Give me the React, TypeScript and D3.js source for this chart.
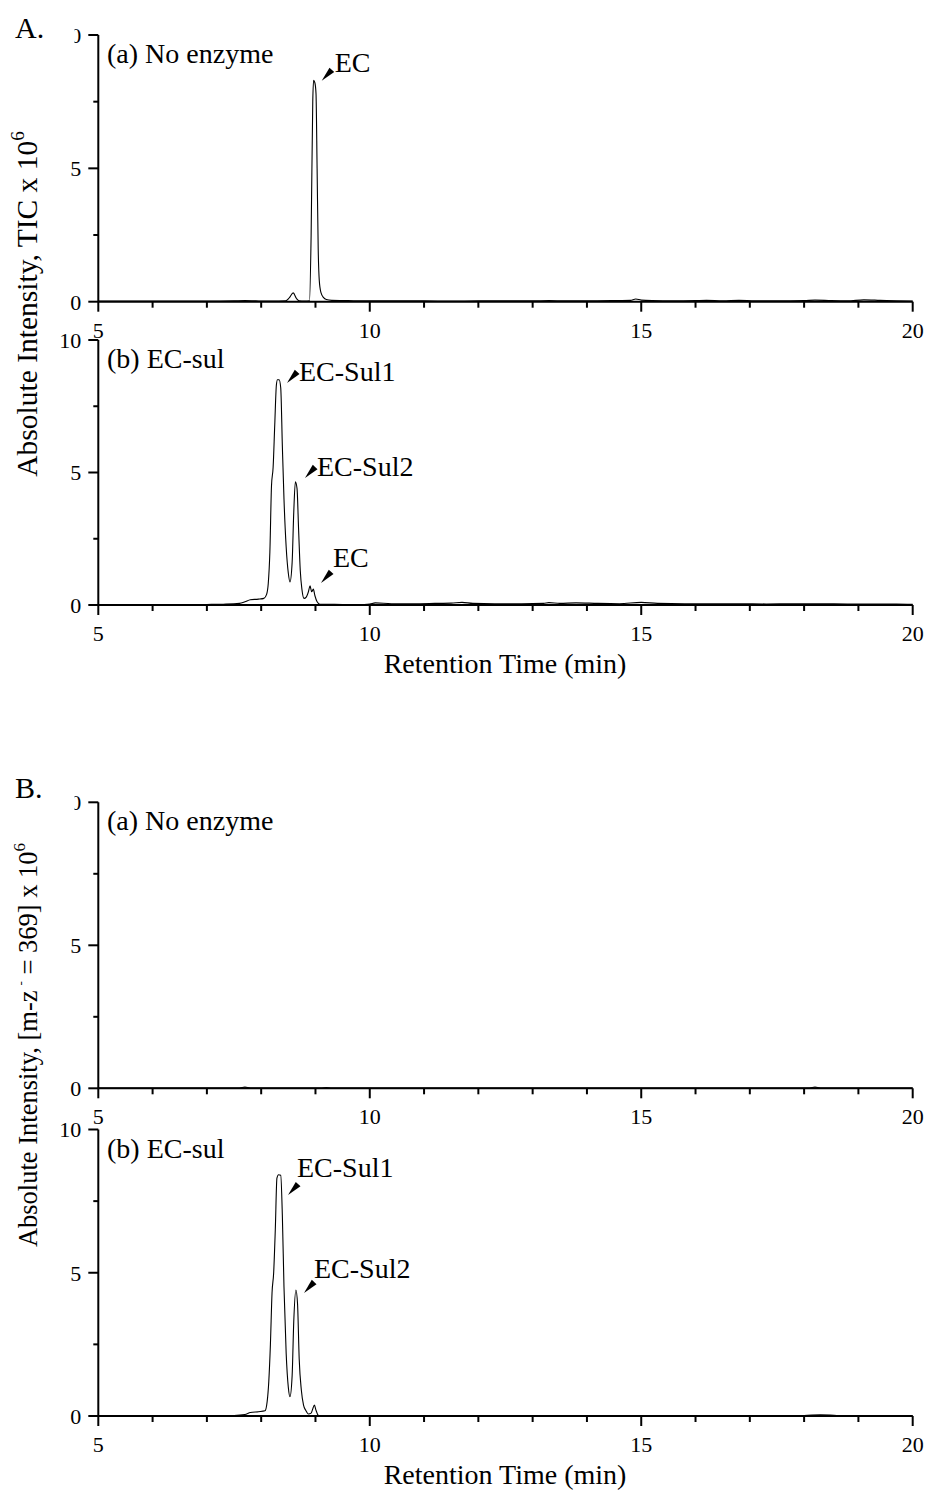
import React from "react";
import * as d3 from "d3";

// ---------------- DATA ----------------
const X_DOMAIN = [5, 20];
const Y_DOMAIN = [0, 10];
const X_MAJOR_TICKS = [5, 10, 15, 20];
const X_MINOR_TICKS = [6, 7, 8, 9, 11, 12, 13, 14, 16, 17, 18, 19];
const Y_MAJOR_TICKS = [0, 5, 10];
const Y_MINOR_TICKS = [2.5, 7.5];

// A (a) TIC, no enzyme
const TIC_NOENZ_TIME = [5.0, 5.5, 6.0, 6.5, 7.0, 7.5, 7.7, 7.9, 8.2, 8.45, 8.52, 8.59, 8.65, 8.7, 8.8, 8.89, 8.92, 8.95, 8.965, 8.99, 9.01, 9.03, 9.05, 9.07, 9.1, 9.15, 9.2, 9.3, 9.6, 10.0, 10.5, 11.0, 11.5, 12.0, 12.5, 13.0, 13.3, 13.6, 14.0, 14.5, 14.8, 14.9, 15.0, 15.2, 15.6, 16.0, 16.2, 16.5, 16.8, 17.1, 17.5, 18.0, 18.2, 18.5, 18.8, 19.1, 19.4, 19.7, 20.0];
const TIC_NOENZ_INT = [0.02, 0.02, 0.02, 0.02, 0.02, 0.03, 0.04, 0.03, 0.02, 0.03, 0.15, 0.33, 0.12, 0.03, 0.02, 0.03, 2.5, 7.5, 8.3, 8.2, 7.8, 5.0, 2.0, 0.8, 0.35, 0.15, 0.08, 0.05, 0.04, 0.03, 0.03, 0.03, 0.02, 0.03, 0.03, 0.03, 0.04, 0.03, 0.03, 0.04, 0.05, 0.1, 0.06, 0.04, 0.03, 0.04, 0.05, 0.03, 0.05, 0.03, 0.03, 0.04, 0.06, 0.04, 0.03, 0.07, 0.05, 0.03, 0.02];

// A (b) TIC, EC-sul
const TIC_SUL_TIME = [5.0, 5.5, 6.0, 6.5, 7.0, 7.3, 7.6, 7.7, 7.8, 7.95, 8.05, 8.1, 8.13, 8.16, 8.19, 8.22, 8.25, 8.28, 8.3, 8.33, 8.36, 8.39, 8.42, 8.46, 8.5, 8.53, 8.57, 8.6, 8.63, 8.66, 8.69, 8.72, 8.75, 8.79, 8.83, 8.87, 8.9, 8.93, 8.96, 8.99, 9.03, 9.08, 9.2, 9.5, 9.8, 10.0, 10.1, 10.4, 10.8, 11.2, 11.5, 11.7, 11.9, 12.3, 12.8, 13.2, 13.3, 13.5, 13.8, 14.2, 14.6, 15.0, 15.3, 15.8, 16.3, 16.8, 17.3, 17.8, 18.3, 18.8, 19.3, 19.7, 20.0];
const TIC_SUL_INT = [0.0, 0.0, 0.01, 0.01, 0.02, 0.03, 0.06, 0.12, 0.2, 0.22, 0.25, 0.4, 0.8, 2.0, 4.5, 5.2, 6.8, 8.3, 8.5, 8.5, 8.2, 6.0, 4.0, 2.2, 1.2, 0.87, 1.6, 3.5, 4.65, 4.4, 2.8, 1.3, 0.6, 0.25, 0.3, 0.5, 0.72, 0.5, 0.6, 0.35, 0.12, 0.03, 0.03, 0.02, 0.02, 0.04, 0.08, 0.05, 0.05, 0.06, 0.07, 0.1, 0.06, 0.05, 0.05, 0.06, 0.09, 0.06, 0.08, 0.06, 0.05, 0.1, 0.06, 0.05, 0.05, 0.05, 0.04, 0.05, 0.05, 0.04, 0.04, 0.04, 0.03];

// B (a) m/z 369, no enzyme
const MZ_NOENZ_TIME = [5.0, 6.0, 7.0, 7.6, 7.7, 7.8, 8.5, 9.1, 9.2, 9.3, 10.0, 12.0, 14.0, 16.0, 18.1, 18.2, 18.3, 19.0, 20.0];
const MZ_NOENZ_INT = [0.01, 0.01, 0.01, 0.01, 0.04, 0.01, 0.01, 0.01, 0.03, 0.01, 0.01, 0.01, 0.01, 0.01, 0.01, 0.04, 0.01, 0.01, 0.01];

// B (b) m/z 369, EC-sul
const MZ_SUL_TIME = [5.0, 6.0, 7.0, 7.5, 7.7, 7.8, 7.95, 8.07, 8.11, 8.14, 8.17, 8.2, 8.23, 8.26, 8.29, 8.32, 8.36, 8.39, 8.42, 8.46, 8.5, 8.53, 8.57, 8.6, 8.64, 8.67, 8.7, 8.74, 8.78, 8.82, 8.87, 8.92, 8.95, 8.98, 9.01, 9.05, 9.1, 9.5, 10.0, 11.0, 12.0, 13.0, 14.0, 15.0, 16.0, 17.0, 18.0, 18.3, 18.6, 19.0, 20.0];
const MZ_SUL_INT = [0.0, 0.0, 0.01, 0.02, 0.05, 0.12, 0.15, 0.18, 0.5, 1.2, 2.5, 4.3, 5.0, 6.5, 8.3, 8.42, 8.4, 7.0, 4.5, 2.2, 1.0, 0.67, 1.4, 3.3, 4.4, 3.9, 2.0, 0.9, 0.38, 0.2, 0.07, 0.1, 0.25, 0.38, 0.2, 0.03, 0.01, 0.01, 0.01, 0.01, 0.01, 0.01, 0.01, 0.01, 0.01, 0.01, 0.02, 0.04, 0.02, 0.01, 0.01];

// annotations: label + point the arrow tip touches (time, intensity)
const ANNOT_TIC_NOENZ_LABELS = ["EC"];
const ANNOT_TIC_NOENZ_T = [9.115];
const ANNOT_TIC_NOENZ_V = [8.28];
const ANNOT_TIC_SUL_LABELS = ["EC-Sul1", "EC-Sul2", "EC"];
const ANNOT_TIC_SUL_T = [8.476, 8.807, 9.102];
const ANNOT_TIC_SUL_V = [8.38, 4.79, 0.83];
const ANNOT_MZ_SUL_LABELS = ["EC-Sul1", "EC-Sul2"];
const ANNOT_MZ_SUL_T = [8.494, 8.789];
const ANNOT_MZ_SUL_V = [7.71, 4.29];

const PANEL_TITLES = ["(a) No enzyme", "(b) EC-sul", "(a) No enzyme", "(b) EC-sul"];
const X_TITLE = "Retention Time (min)";

// ---------------- LAYOUT ----------------
const W = 926;
const H = 1497;
const PLOT_L = 98.3;
const PLOT_R = 912.7;
const FONT = "'Liberation Serif', 'Times New Roman', Times, serif";

const PANEL_BOXES = [
  { top: 35, bottom: 301.7 },
  { top: 340, bottom: 605 },
  { top: 802.3, bottom: 1088.3 },
  { top: 1129.5, bottom: 1416 },
];
// per-annotation label offsets from arrow tip (px)
const LABEL_OFFSETS = [
  [[13, -9]],
  [[12, -2], [12, -2], [12, -16]],
  [],
  [[9, -18], [10, -15]],
];
const ARROW_DIR = [11, -12];

type PanelProps = {
  idx: number;
  time: number[];
  inten: number[];
  title: string;
  annLabels: string[];
  annT: number[];
  annV: number[];
  clipTop: boolean;
};

function Panel({ idx, time, inten, title, annLabels, annT, annV, clipTop }: PanelProps) {
  const box = PANEL_BOXES[idx];
  const x = d3.scaleLinear().domain(X_DOMAIN).range([PLOT_L, PLOT_R]);
  const y = d3.scaleLinear().domain(Y_DOMAIN).range([box.bottom, box.top]);
  const pts: [number, number][] = time.map((t, i) => [t, inten[i]]);
  const line = d3
    .line<[number, number]>()
    .x((d) => x(d[0]))
    .y((d) => y(d[1]))
    .curve(d3.curveMonotoneX);
  const clipId = `clipTop${idx}`;
  const len = Math.hypot(ARROW_DIR[0], ARROW_DIR[1]);
  const ux = ARROW_DIR[0] / len;
  const uy = ARROW_DIR[1] / len;
  const headLen = 15;
  const headHalf = 3.2;
  return (
    <g>
      <defs>
        <clipPath id={clipId}>
          <rect x={74.5} y={box.top - 20} width={30} height={40} />
        </clipPath>
      </defs>
      <path d={line(pts) || ""} fill="none" stroke="#000" strokeWidth={1.1} />
      <line x1={PLOT_L} x2={PLOT_R} y1={box.bottom} y2={box.bottom} stroke="#000" strokeWidth={2} />
      <line x1={PLOT_L} x2={PLOT_L} y1={box.top} y2={box.bottom} stroke="#000" strokeWidth={2} />
      {X_MAJOR_TICKS.map((t) => (
        <g key={"xM" + t}>
          <line x1={x(t)} x2={x(t)} y1={box.bottom} y2={box.bottom + 10} stroke="#000" strokeWidth={2} />
          <text x={x(t)} y={box.bottom + 36} textAnchor="middle" fontSize={22} fontFamily={FONT}>
            {t}
          </text>
        </g>
      ))}
      {X_MINOR_TICKS.map((t) => (
        <line key={"xm" + t} x1={x(t)} x2={x(t)} y1={box.bottom} y2={box.bottom + 6} stroke="#000" strokeWidth={2} />
      ))}
      {Y_MAJOR_TICKS.map((v) => (
        <g key={"yM" + v}>
          <line x1={PLOT_L - 10} x2={PLOT_L} y1={y(v)} y2={y(v)} stroke="#000" strokeWidth={2} />
          <text
            x={PLOT_L - 17}
            y={y(v)}
            dy="0.36em"
            textAnchor="end"
            fontSize={22}
            fontFamily={FONT}
            clipPath={clipTop && v === Y_DOMAIN[1] ? `url(#${clipId})` : undefined}
          >
            {v}
          </text>
        </g>
      ))}
      {Y_MINOR_TICKS.map((v) => (
        <line key={"ym" + v} x1={PLOT_L - 5} x2={PLOT_L} y1={y(v)} y2={y(v)} stroke="#000" strokeWidth={2} />
      ))}
      <text x={107} y={box.top + 28} fontSize={28} fontFamily={FONT}>
        {title}
      </text>
      {annLabels.map((lab, i) => {
        const tx = x(annT[i]);
        const ty = y(annV[i]);
        const bx = tx + ux * headLen;
        const by = ty + uy * headLen;
        const px = -uy * headHalf;
        const py = ux * headHalf;
        const off = LABEL_OFFSETS[idx][i];
        return (
          <g key={"a" + i}>
            <polygon points={`${tx},${ty} ${bx + px},${by + py} ${bx - px},${by - py}`} fill="#000" />
            <text x={tx + off[0]} y={ty + off[1]} fontSize={28} fontFamily={FONT}>
              {lab}
            </text>
          </g>
        );
      })}
    </g>
  );
}

export default function App() {
  return (
    <svg
      width={W}
      height={H}
      viewBox={`0 0 ${W} ${H}`}
      style={{ position: "absolute", left: 0, top: 0, background: "#fff" }}
    >
      <rect x={0} y={0} width={W} height={H} fill="#fff" />
      <Panel idx={0} time={TIC_NOENZ_TIME} inten={TIC_NOENZ_INT} title={PANEL_TITLES[0]}
        annLabels={ANNOT_TIC_NOENZ_LABELS} annT={ANNOT_TIC_NOENZ_T} annV={ANNOT_TIC_NOENZ_V} clipTop={true} />
      <Panel idx={1} time={TIC_SUL_TIME} inten={TIC_SUL_INT} title={PANEL_TITLES[1]}
        annLabels={ANNOT_TIC_SUL_LABELS} annT={ANNOT_TIC_SUL_T} annV={ANNOT_TIC_SUL_V} clipTop={false} />
      <Panel idx={2} time={MZ_NOENZ_TIME} inten={MZ_NOENZ_INT} title={PANEL_TITLES[2]}
        annLabels={[]} annT={[]} annV={[]} clipTop={true} />
      <Panel idx={3} time={MZ_SUL_TIME} inten={MZ_SUL_INT} title={PANEL_TITLES[3]}
        annLabels={ANNOT_MZ_SUL_LABELS} annT={ANNOT_MZ_SUL_T} annV={ANNOT_MZ_SUL_V} clipTop={false} />

      <text x={15} y={38} fontSize={30} fontFamily={FONT}>A.</text>
      <text x={15} y={798} fontSize={30} fontFamily={FONT}>B.</text>

      <text x={505} y={673} textAnchor="middle" fontSize={28} fontFamily={FONT}>{X_TITLE}</text>
      <text x={505} y={1484} textAnchor="middle" fontSize={28} fontFamily={FONT}>{X_TITLE}</text>

      <text transform="translate(37,304) rotate(-90)" textAnchor="middle" fontSize={29.5} fontFamily={FONT}>
        Absolute Intensity, TIC x 10
        <tspan fontSize={19} dy={-13}>6</tspan>
      </text>
      <text transform="translate(37,1045) rotate(-90)" textAnchor="middle" fontSize={26.5} fontFamily={FONT}>
        Absolute Intensity, [m-z
        <tspan fontSize={13} dy={-12} dx={5}>-</tspan>
        <tspan dy={12}>{" = 369] x 10"}</tspan>
        <tspan fontSize={17} dy={-12}>6</tspan>
      </text>
    </svg>
  );
}
